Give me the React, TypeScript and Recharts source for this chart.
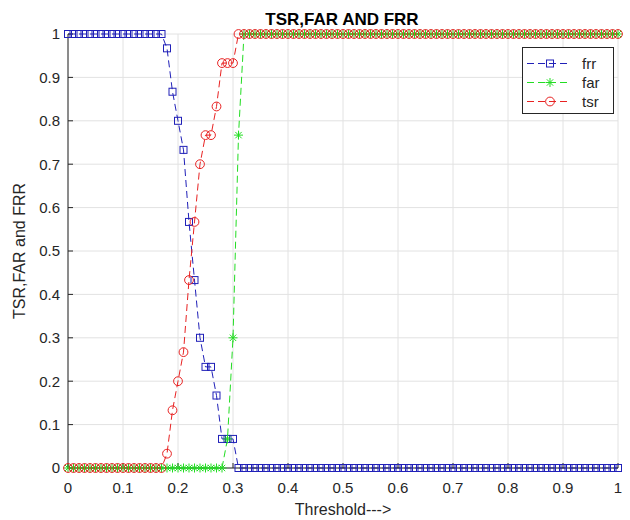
import { LineChart, Line, XAxis, YAxis, CartesianGrid, Legend } from "recharts";

// threshold steps (x) — 0.00 .. 1.00
const thresholds = [
  0, 0.01, 0.02, 0.03, 0.04, 0.05, 0.06, 0.07, 0.08, 0.09,
  0.1, 0.11, 0.12, 0.13, 0.14, 0.15, 0.16, 0.17, 0.18, 0.19,
  0.2, 0.21, 0.22, 0.23, 0.24, 0.25, 0.26, 0.27, 0.28, 0.29,
  0.3, 0.31, 0.32, 0.33, 0.34, 0.35, 0.36, 0.37, 0.38, 0.39,
  0.4, 0.41, 0.42, 0.43, 0.44, 0.45, 0.46, 0.47, 0.48, 0.49,
  0.5, 0.51, 0.52, 0.53, 0.54, 0.55, 0.56, 0.57, 0.58, 0.59,
  0.6, 0.61, 0.62, 0.63, 0.64, 0.65, 0.66, 0.67, 0.68, 0.69,
  0.7, 0.71, 0.72, 0.73, 0.74, 0.75, 0.76, 0.77, 0.78, 0.79,
  0.8, 0.81, 0.82, 0.83, 0.84, 0.85, 0.86, 0.87, 0.88, 0.89,
  0.9, 0.91, 0.92, 0.93, 0.94, 0.95, 0.96, 0.97, 0.98, 0.99,
  1,
];

const frr = [
  1, 1, 1, 1, 1, 1, 1, 1, 1, 1,
  1, 1, 1, 1, 1, 1, 1, 1, 0.967, 0.867,
  0.8, 0.733, 0.567, 0.433, 0.3, 0.233, 0.233, 0.167, 0.067, 0.067,
  0.067, 0, 0, 0, 0, 0, 0, 0, 0, 0,
  0, 0, 0, 0, 0, 0, 0, 0, 0, 0,
  0, 0, 0, 0, 0, 0, 0, 0, 0, 0,
  0, 0, 0, 0, 0, 0, 0, 0, 0, 0,
  0, 0, 0, 0, 0, 0, 0, 0, 0, 0,
  0, 0, 0, 0, 0, 0, 0, 0, 0, 0,
  0, 0, 0, 0, 0, 0, 0, 0, 0, 0,
  0,
];

const far = [
  0, 0, 0, 0, 0, 0, 0, 0, 0, 0,
  0, 0, 0, 0, 0, 0, 0, 0, 0, 0,
  0, 0, 0, 0, 0, 0, 0, 0, 0, 0.067,
  0.3, 0.767, 1, 1, 1, 1, 1, 1, 1, 1,
  1, 1, 1, 1, 1, 1, 1, 1, 1, 1,
  1, 1, 1, 1, 1, 1, 1, 1, 1, 1,
  1, 1, 1, 1, 1, 1, 1, 1, 1, 1,
  1, 1, 1, 1, 1, 1, 1, 1, 1, 1,
  1, 1, 1, 1, 1, 1, 1, 1, 1, 1,
  1, 1, 1, 1, 1, 1, 1, 1, 1, 1,
  1,
];

const tsr = [
  0, 0, 0, 0, 0, 0, 0, 0, 0, 0,
  0, 0, 0, 0, 0, 0, 0, 0, 0.033, 0.133,
  0.2, 0.267, 0.433, 0.567, 0.7, 0.767, 0.767, 0.833, 0.933, 0.933,
  0.933, 1, 1, 1, 1, 1, 1, 1, 1, 1,
  1, 1, 1, 1, 1, 1, 1, 1, 1, 1,
  1, 1, 1, 1, 1, 1, 1, 1, 1, 1,
  1, 1, 1, 1, 1, 1, 1, 1, 1, 1,
  1, 1, 1, 1, 1, 1, 1, 1, 1, 1,
  1, 1, 1, 1, 1, 1, 1, 1, 1, 1,
  1, 1, 1, 1, 1, 1, 1, 1, 1, 1,
  1,
];

const xTicks = [0, 0.1, 0.2, 0.3, 0.4, 0.5, 0.6, 0.7, 0.8, 0.9, 1];
const yTicks = [0, 0.1, 0.2, 0.3, 0.4, 0.5, 0.6, 0.7, 0.8, 0.9, 1];

const series = [
  { key: "frr", color: "#2020b8", marker: "square" },
  { key: "far", color: "#22dd22", marker: "star" },
  { key: "tsr", color: "#e82222", marker: "circle" },
];

const data = thresholds.map((t, i) => ({
  t,
  frr: frr[i],
  far: far[i],
  tsr: tsr[i],
}));

const AXIS = "#262626";
const FONT = '"Liberation Sans", Arial, sans-serif';

function Marker({ kind, color, cx, cy }: { kind: string; color: string; cx?: number; cy?: number }) {
  if (cx == null || cy == null) return null;
  if (kind === "square") {
    return <rect x={cx - 3.5} y={cy - 3.5} width={7} height={7} fill="none" stroke={color} strokeWidth={1} />;
  }
  if (kind === "circle") {
    return <circle cx={cx} cy={cy} r={4.4} fill="none" stroke={color} strokeWidth={1} />;
  }
  return (
    <g stroke={color} strokeWidth={1}>
      <line x1={cx - 4.5} x2={cx + 4.5} y1={cy} y2={cy} />
      <line x1={cx} x2={cx} y1={cy - 4.5} y2={cy + 4.5} />
      <line x1={cx - 3.2} x2={cx + 3.2} y1={cy - 3.2} y2={cy + 3.2} />
      <line x1={cx - 3.2} x2={cx + 3.2} y1={cy + 3.2} y2={cy - 3.2} />
    </g>
  );
}

function LegendBox() {
  return (
    <div
      style={{
        width: 92,
        height: 67,
        boxSizing: "border-box",
        border: `1px solid ${AXIS}`,
        background: "#fff",
      }}
    >
      <svg width={90} height={65} style={{ display: "block" }}>
        {series.map((s, i) => {
          const y = 15.5 + i * 19;
          return (
            <g key={s.key}>
              <line x1={4} x2={45} y1={y} y2={y} stroke={s.color} strokeDasharray="7 4" />
              <Marker kind={s.marker} color={s.color} cx={27} cy={y} />
              <text x={59} y={y} dominantBaseline="central" fontSize={15} fill={AXIS} fontFamily={FONT}>
                {s.key}
              </text>
            </g>
          );
        })}
      </svg>
    </div>
  );
}

export default function App() {
  return (
    <div
      style={{
        position: "absolute",
        left: 0,
        top: 0,
        width: 630,
        height: 520,
        background: "#fff",
        fontFamily: FONT,
      }}
    >
      <LineChart width={630} height={520} data={data} margin={{ top: 34, right: 12, bottom: 0, left: 0 }}>
        <CartesianGrid stroke="#e2e2e2" />
        <XAxis
          dataKey="t"
          type="number"
          domain={[0, 1]}
          ticks={xTicks}
          interval={0}
          height={52}
          tickSize={-5}
          tickMargin={19}
          stroke={AXIS}
          tick={{ fill: AXIS, fontSize: 15 }}
          label={{ value: "Threshold--->", position: "insideBottom", offset: 5, fill: AXIS, fontSize: 16 }}
        />
        <XAxis
          xAxisId="top"
          orientation="top"
          dataKey="t"
          type="number"
          domain={[0, 1]}
          ticks={xTicks}
          interval={0}
          height={0}
          tickSize={-5}
          tick={false}
          stroke={AXIS}
        />
        <YAxis
          type="number"
          domain={[0, 1]}
          ticks={yTicks}
          interval={0}
          width={68}
          tickSize={-5}
          tickMargin={13}
          stroke={AXIS}
          tick={{ fill: AXIS, fontSize: 15 }}
          label={{
            value: "TSR,FAR and FRR",
            angle: -90,
            position: "insideLeft",
            offset: 19,
            fill: AXIS,
            fontSize: 16,
            style: { textAnchor: "middle" },
          }}
        />
        <YAxis
          yAxisId="right"
          orientation="right"
          type="number"
          domain={[0, 1]}
          ticks={yTicks}
          interval={0}
          width={0}
          tickSize={-5}
          tick={false}
          stroke={AXIS}
        />
        <Legend
          layout="vertical"
          align="center"
          verticalAlign="middle"
          content={() => <LegendBox />}
          wrapperStyle={{ left: 522, top: 47, width: 92, height: 67 }}
        />
        {series.map((s) => (
          <Line
            key={s.key}
            dataKey={s.key}
            type="linear"
            stroke={s.color}
            strokeWidth={1}
            strokeDasharray="7 4"
            isAnimationActive={false}
            activeDot={false}
            dot={(p: any) => <Marker key={`${s.key}-${p.index}`} kind={s.marker} color={s.color} cx={p.cx} cy={p.cy} />}
          />
        ))}
      </LineChart>
      <svg
        width={630}
        height={32}
        style={{ position: "absolute", left: 0, top: 0, pointerEvents: "none" }}
      >
        <text x={342} y={25} textAnchor="middle" fontSize={17} fontWeight="bold" fill="#000" fontFamily={FONT}>
          TSR,FAR AND FRR
        </text>
      </svg>
    </div>
  );
}
